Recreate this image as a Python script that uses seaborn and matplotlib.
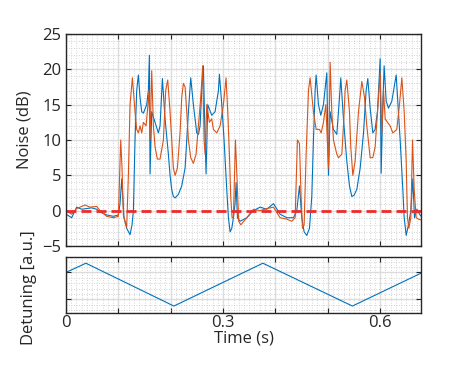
import numpy as np
import pandas as pd
import matplotlib
matplotlib.use("Agg")
import matplotlib.pyplot as plt
import seaborn as sns
from matplotlib.ticker import MultipleLocator, FixedLocator

# Dados
tempo_azul = [0.0000, 0.0108, 0.0204, 0.0299, 0.0395, 0.0490, 0.0586, 0.0650, 0.0777, 0.0904,
              0.1000, 0.1032, 0.1064, 0.1108, 0.1159, 0.1223, 0.1261, 0.1287, 0.1318, 0.1350,
              0.1382, 0.1414, 0.1446, 0.1478, 0.1541, 0.1573, 0.1592, 0.1605, 0.1637, 0.1701,
              0.1764, 0.1796, 0.1841, 0.1892, 0.1955, 0.1987, 0.2019, 0.2051, 0.2083, 0.2146,
              0.2210, 0.2274, 0.2306, 0.2338, 0.2382, 0.2433, 0.2497, 0.2529, 0.2561, 0.2592,
              0.2624, 0.2650, 0.2675, 0.2707, 0.2783, 0.2847, 0.2911, 0.2930, 0.2975, 0.3019,
              0.3070, 0.3102, 0.3134, 0.3166, 0.3197, 0.3229, 0.3248, 0.3274, 0.3325, 0.3452,
              0.3580, 0.3707, 0.3834, 0.3962, 0.4089, 0.4217, 0.4344, 0.4408, 0.4459, 0.4503,
              0.4548, 0.4599, 0.4650, 0.4694, 0.4726, 0.4758, 0.4777, 0.4822, 0.4866, 0.4917,
              0.4981, 0.5013, 0.5045, 0.5108, 0.5172, 0.5223, 0.5248, 0.5299, 0.5363, 0.5414,
              0.5459, 0.5503, 0.5554, 0.5618, 0.5682, 0.5732, 0.5764, 0.5809, 0.5860, 0.5904,
              0.5949, 0.6000, 0.6019, 0.6051, 0.6076, 0.6115, 0.6159, 0.6223, 0.6306, 0.6350,
              0.6382, 0.6433, 0.6459, 0.6497, 0.6541, 0.6586, 0.6624, 0.6656, 0.6701, 0.6752,
              0.6783]
ruido_azul = [-0.5, -1.0, 0.5, 0.2, 0.3, 0.4, 0.2, -0.2, -0.6, -0.8,
              -0.6, 1.0, 4.5, -1.0, -2.5, -3.4, -2.0, 0.0, 10, 17,
              19.2, 16, 14, 13.8, 15, 17, 22, 5.2, 14, 12.5,
              11, 12, 18.7, 13, 8, 5, 3, 2, 1.8, 2.3,
              3.5, 6, 10, 14, 18.8, 15, 11, 10.8, 12, 17,
              20.5, 12, 5.2, 15, 13.5, 14, 17, 19.3, 15, 10,
              3, -1, -3, -2.5, -1, 1, 4, -1, -1.5, -1,
              0, 0.5, 0.2, 1, -0.5, -1, -1, 0, 3.5, -1,
              -3, -3.5, -2.5, 2, 10, 17, 19.2, 15, 13.5, 15,
              19.5, 5, 14, 11.5, 10.8, 16, 18.8, 13, 7, 3.5,
              2, 2.2, 3, 6, 11, 17, 18.7, 14.5, 11, 11.5,
              14, 21.5, 5.3, 15, 20.5, 15.5, 14.5, 15.5, 19.2, 14,
              10, 3, -1, -3.5, -2, 0, 4.5, -1, 0.2, -0.5,
              -0.8]

tempo_laranja = [0.0000, 0.0108, 0.0204, 0.0363, 0.0459, 0.0586, 0.0650, 0.0777, 0.0904, 0.1000,
                 0.1045, 0.1070, 0.1096, 0.1159, 0.1191, 0.1223, 0.1268, 0.1318, 0.1350, 0.1382,
                 0.1414, 0.1446, 0.1478, 0.1529, 0.1554, 0.1586, 0.1605, 0.1637, 0.1669, 0.1701,
                 0.1745, 0.1796, 0.1860, 0.1904, 0.1943, 0.1987, 0.2019, 0.2051, 0.2083, 0.2127,
                 0.2178, 0.2210, 0.2242, 0.2274, 0.2306, 0.2338, 0.2382, 0.2433, 0.2484, 0.2529,
                 0.2573, 0.2611, 0.2637, 0.2656, 0.2688, 0.2739, 0.2783, 0.2815, 0.2879, 0.2943,
                 0.3006, 0.3057, 0.3089, 0.3121, 0.3146, 0.3172, 0.3197, 0.3236, 0.3274, 0.3299,
                 0.3338, 0.3452, 0.3580, 0.3707, 0.3834, 0.3962, 0.4089, 0.4217, 0.4312, 0.4376,
                 0.4420, 0.4459, 0.4490, 0.4516, 0.4548, 0.4586, 0.4631, 0.4662, 0.4726, 0.4777,
                 0.4841, 0.4873, 0.4917, 0.4962, 0.5013, 0.5045, 0.5076, 0.5108, 0.5172, 0.5204,
                 0.5268, 0.5299, 0.5331, 0.5363, 0.5414, 0.5439, 0.5478, 0.5522, 0.5586, 0.5650,
                 0.5701, 0.5745, 0.5809, 0.5860, 0.5904, 0.5949, 0.6000, 0.6032, 0.6064, 0.6096,
                 0.6140, 0.6191, 0.6242, 0.6318, 0.6369, 0.6414, 0.6459, 0.6497, 0.6522, 0.6548,
                 0.6586, 0.6618, 0.6650, 0.6688, 0.6732, 0.6783]
ruido_laranja = [0.0, -0.5, 0.3, 0.8, 0.5, 0.6, 0.0, -0.8, -1.0, -0.8,
                 10, 6, -0.7, -2.3, 5, 15, 18.8, 14, 11.5, 11,
                 12, 11, 12.5, 12, 14, 17, 10, 19.8, 12, 9,
                 7.3, 7.3, 10, 17, 18.5, 14, 10, 6, 5, 6,
                 11, 16, 18, 17.5, 14, 10, 7.5, 6.7, 8, 12,
                 16, 20.5, 10, 8, 15, 12.5, 13, 11.5, 11, 12,
                 15, 18.8, 14, 8, 2, -1, -1, 10, 3, -1.5,
                 -2, -1, 0.2, 0, 0.3, 0.5, -1, -1.2, -1.5, -1,
                 10, 9.5, 2, -2.5, -2, 8, 17, 18.8, 14, 11.5,
                 11.5, 11, 12.5, 15, 6, 21, 14, 10, 8, 7.5,
                 8, 12, 17, 18.5, 14, 9, 5, 7, 14, 18.3,
                 16, 12, 7.5, 7.5, 9, 14, 19.5, 11, 17, 13,
                 12.5, 12, 11, 11.5, 15, 18.8, 14, 7, -1, -2.5,
                 -1, 10, 3, -1, -1.2, -1.3]

tempo_dessintonia = [0.0, 0.038, 0.206, 0.376, 0.547, 0.678]
dessintonia = [1.0, 1.34, -0.25, 1.34, -0.25, 0.97]

ticks_x = [0, 0.1, 0.2, 0.3, 0.4, 0.5, 0.6]
rotulos_x = ["0", "", "", "0.3", "", "", "0.6"]
ticks_ruido = [-5, 0, 5, 10, 15, 20, 25]

AZUL = "#0072BD"
LARANJA = "#D95319"

sns.set_style("ticks")
plt.rcParams['font.family'] = ['Open Sans', 'DejaVu Sans']
plt.rcParams['axes.edgecolor'] = '#262626'
plt.rcParams['xtick.color'] = '#262626'
plt.rcParams['ytick.color'] = '#262626'
plt.rcParams['text.color'] = '#262626'
plt.rcParams['axes.labelcolor'] = '#262626'

df_azul = pd.DataFrame({'t': tempo_azul, 'ruido': ruido_azul})
df_laranja = pd.DataFrame({'t': tempo_laranja, 'ruido': ruido_laranja})
df_det = pd.DataFrame({'t': tempo_dessintonia, 'det': dessintonia})

fig = plt.figure(figsize=(4.54, 3.69), dpi=100)
ax1 = fig.add_axes([0.1454, 0.3333, 0.7819, 0.5746])
ax2 = fig.add_axes([0.1454, 0.1509, 0.7819, 0.1518])


def estilo(ax):
    ax.set_axisbelow(True)
    ax.grid(which='major', color='#dcdcdc', linewidth=1.0, linestyle='-')
    ax.grid(which='minor', color='#c8c8c8', linewidth=0.6, linestyle=(0, (1, 2)))
    ax.tick_params(which='both', direction='in', top=True, right=True)
    ax.tick_params(which='major', length=3.5, width=0.8, labelsize=12)
    ax.tick_params(which='minor', length=0)
    for s in ax.spines.values():
        s.set_linewidth(1.0)
    ax.set_xlim(0, 0.678)
    ax.xaxis.set_major_locator(FixedLocator(ticks_x))
    ax.xaxis.set_minor_locator(MultipleLocator(0.01))


# Painel superior: ruído
sns.lineplot(data=df_azul, x='t', y='ruido', ax=ax1, color=AZUL, linewidth=0.8,
             estimator=None, sort=False)
sns.lineplot(data=df_laranja, x='t', y='ruido', ax=ax1, color=LARANJA, linewidth=0.8,
             estimator=None, sort=False)
ax1.axhline(0, color='#ee2a2a', linewidth=2.0, linestyle=(0, (3.6, 1.8)))
estilo(ax1)
ax1.set_ylim(-5, 25)
ax1.set_yticks(ticks_ruido)
ax1.yaxis.set_minor_locator(MultipleLocator(1))
ax1.set_xticklabels([])
ax1.set_xlabel('')
ax1.set_ylabel('Noise (dB)', fontsize=12)
ax1.yaxis.set_label_coords(-0.095, 0.55)

# Painel inferior: dessintonia
sns.lineplot(data=df_det, x='t', y='det', ax=ax2, color=AZUL, linewidth=0.8,
             estimator=None, sort=False)
estilo(ax2)
ax2.set_ylim(-0.52, 1.56)
ax2.set_yticks([0, 1])
ax2.set_yticklabels([])
ax2.yaxis.set_minor_locator(MultipleLocator(0.2))
ax2.set_xticklabels(rotulos_x)
ax2.tick_params(axis='x', pad=1)
ax2.set_xlabel('Time (s)', fontsize=12, labelpad=0)
ax2.set_ylabel('Detuning [a.u.]', fontsize=12)
ax2.yaxis.set_label_coords(-0.083, 0.45)

fig.savefig('out.png', dpi=100)
